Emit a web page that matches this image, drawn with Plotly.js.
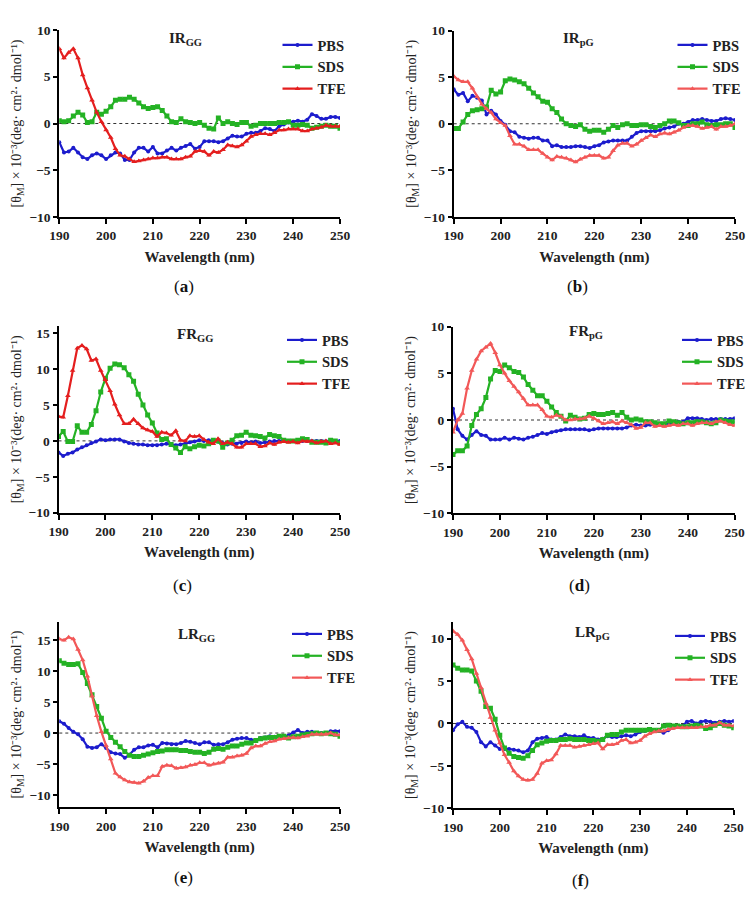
<!DOCTYPE html>
<html>
<head>
<meta charset="utf-8">
<script src="https://cdn.plot.ly/plotly-3.0.1.min.js"></script>
<style>html,body{margin:0;padding:0;background:#fff;}#chart{width:755px;height:902px;}</style>
</head>
<body>
<div id="chart"></div>
<script>
// Wavelength (nm)
const wavelength = [190,191,192,193,194,195,196,197,198,199,200,201,202,203,204,205,206,207,208,209,210,211,212,213,214,215,216,217,218,219,220,221,222,223,224,225,226,227,228,229,230,231,232,233,234,235,236,237,238,239,240,241,242,243,244,245,246,247,248,249,250];
const seriesNames = ['PBS','SDS','TFE'];
const panelTitles = ['IR<sub>GG</sub>','IR<sub>pG</sub>','FR<sub>GG</sub>','FR<sub>pG</sub>','LR<sub>GG</sub>','LR<sub>pG</sub>'];
const panelLabels = ['a','b','c','d','e','f'];
const yTitle = '[θ<sub>M</sub>] × 10⁻³(deg· cm²· dmol⁻¹)';
const xTitle = 'Wavelength (nm)';

// (a) IR_GG
const aPBS = [-2.0,-3.1,-3.0,-2.6,-3.1,-3.6,-3.8,-3.4,-3.2,-3.4,-3.8,-3.4,-3.1,-3.2,-3.9,-3.9,-3.1,-2.6,-2.6,-3.0,-2.5,-3.2,-3.2,-2.9,-2.6,-2.9,-2.6,-2.4,-2.2,-2.7,-2.5,-1.9,-1.9,-1.9,-2.0,-1.9,-1.6,-1.3,-1.4,-1.4,-1.1,-1.0,-1.0,-0.8,-0.5,-0.6,-0.8,-0.3,-0.1,0.1,0.2,0.3,0.2,0.4,1.0,0.8,0.5,0.5,0.7,0.7,0.6];
const aSDS = [0.3,0.2,0.3,0.8,1.2,0.9,0.1,0.2,1.2,1.0,1.3,1.8,2.5,2.6,2.6,2.8,2.6,2.2,1.8,1.6,1.7,1.8,1.4,0.8,0.2,0.1,0.5,0.2,0.1,0.0,0.1,-0.2,-0.5,-0.6,0.6,0.0,0.2,0.0,-0.1,0.1,0.1,-0.3,-0.2,0.0,0.0,0.0,0.0,0.1,0.1,0.2,-0.2,-0.2,-0.1,-0.2,-0.5,-0.4,-0.3,-0.2,-0.3,-0.3,-0.5];
const aTFE = [8.0,7.0,7.6,8.0,7.0,5.2,3.8,2.5,1.2,0.2,-0.7,-1.5,-2.7,-3.4,-3.5,-3.8,-4.1,-4.0,-3.9,-3.8,-3.7,-3.7,-3.6,-3.6,-3.8,-3.8,-3.8,-3.6,-3.5,-3.0,-2.9,-3.0,-3.4,-3.0,-3.1,-2.8,-2.3,-2.4,-2.5,-2.3,-1.9,-1.4,-1.2,-1.1,-1.1,-1.2,-1.0,-0.7,-0.7,-0.6,-0.6,-0.6,-0.8,-0.8,-0.6,-0.5,-0.4,-0.2,-0.3,-0.3,-0.3];

// (b) IR_pG
const bPBS = [3.7,3.1,3.3,2.4,3.0,2.8,2.5,1.0,1.4,1.0,0.3,-0.1,-0.8,-0.9,-1.4,-1.5,-1.6,-1.5,-1.5,-1.8,-1.8,-2.4,-2.3,-2.5,-2.5,-2.5,-2.4,-2.4,-2.5,-2.6,-2.4,-2.3,-2.0,-1.9,-1.8,-1.8,-1.8,-1.8,-1.4,-1.0,-0.8,-0.8,-0.8,-0.8,-0.7,-0.5,-0.4,-0.3,0.0,0.0,0.2,0.4,0.4,0.5,0.4,0.3,0.3,0.5,0.6,0.5,0.4];
const bSDS = [-0.5,-0.5,0.2,1.0,1.4,1.5,1.6,1.8,3.6,3.2,3.4,4.6,4.8,4.7,4.5,4.3,3.8,3.3,2.9,2.4,2.3,1.6,1.2,0.5,0.0,-0.2,-0.3,-0.1,-0.6,-0.8,-0.7,-0.7,-0.9,-0.6,-0.2,-0.4,-0.1,0.0,-0.2,-0.2,-0.1,-0.1,-0.3,-0.4,-0.2,0.0,0.3,0.3,0.1,-0.2,-0.2,0.0,0.0,0.2,-0.1,-0.2,-0.1,-0.1,0.0,0.0,-0.4];
const bTFE = [5.1,4.7,4.5,4.5,3.8,2.9,2.1,1.6,1.2,0.5,0.1,-0.2,-1.3,-2.2,-2.2,-2.4,-2.8,-2.8,-2.8,-3.2,-3.6,-3.9,-3.5,-3.6,-3.7,-3.9,-4.1,-3.8,-3.6,-3.4,-3.4,-3.4,-3.7,-3.6,-2.9,-2.3,-2.1,-2.1,-2.4,-2.2,-1.8,-1.5,-1.2,-1.4,-1.1,-1.0,-1.1,-0.9,-0.7,-0.4,-0.2,-0.2,-0.3,-0.5,-0.4,-0.3,-0.6,-0.3,-0.3,-0.2,0.0];

// (c) FR_GG
const cPBS = [-1.6,-2.1,-1.8,-1.6,-1.2,-0.9,-0.6,-0.3,-0.1,0.2,0.1,0.2,0.2,0.2,-0.1,-0.3,-0.4,-0.5,-0.5,-0.6,-0.6,-0.6,-0.5,-0.4,-0.5,-0.6,-0.5,-0.4,-0.2,-0.1,0.1,0.0,0.1,0.0,-0.1,-0.3,-0.5,-0.4,-0.4,-0.3,-0.1,-0.2,-0.1,-0.3,-0.2,-0.1,0.0,0.0,0.0,0.0,0.0,0.0,0.0,0.0,0.0,0.0,0.0,-0.1,0.0,0.0,0.0];
const cSDS = [0.6,1.3,-0.1,-0.1,2.1,1.2,1.2,2.3,4.2,6.8,8.7,10.1,10.7,10.6,10.2,9.2,8.3,6.5,5.0,3.6,2.5,1.1,0.2,0.3,-0.5,-1.0,-1.6,-0.8,-1.1,-0.8,-0.6,-0.7,-0.4,0.1,0.0,-0.9,-0.3,0.1,0.7,0.8,1.2,0.8,0.7,0.6,0.4,0.9,0.7,0.6,0.1,0.0,0.0,0.1,0.3,0.2,-0.2,-0.2,-0.2,-0.3,0.1,0.0,-0.3];
const cTFE = [3.4,3.3,6.3,9.8,12.9,13.3,12.8,11.2,11.4,9.8,8.5,7.0,5.1,3.6,2.4,2.4,3.0,2.4,1.8,1.5,1.3,0.6,1.2,1.1,0.8,1.4,0.1,0.0,0.7,0.6,0.7,0.2,-0.2,-0.4,0.3,-0.4,-0.2,-0.4,-0.9,-0.9,-0.4,-0.4,-0.4,-0.8,-0.7,-0.3,-0.5,-0.2,-0.1,-0.2,-0.1,-0.3,0.0,-0.1,0.0,-0.3,-0.1,0.0,-0.4,-0.3,-0.5];

// (d) FR_pG
const dPBS = [1.2,-1.0,-1.7,-2.1,-1.6,-1.2,-1.6,-1.7,-2.1,-2.1,-2.1,-1.9,-2.1,-1.9,-2.0,-2.1,-1.9,-1.8,-1.6,-1.4,-1.5,-1.3,-1.2,-1.1,-1.0,-1.0,-1.0,-1.0,-1.0,-1.1,-1.0,-0.9,-0.9,-0.9,-0.9,-0.9,-0.9,-0.8,-0.6,-0.5,-0.6,-0.6,-0.5,-0.5,-0.5,-0.4,-0.4,-0.3,-0.2,-0.2,0.2,0.2,0.2,0.1,0.0,0.1,0.1,0.1,0.1,0.1,0.2];
const dSDS = [-3.7,-3.3,-3.3,-2.8,-0.6,0.6,1.2,2.4,4.4,5.3,5.2,5.9,5.6,5.2,5.1,4.6,3.8,3.2,2.6,2.6,2.0,1.4,0.8,0.4,-0.1,0.5,0.3,0.1,0.2,0.6,0.7,0.6,0.6,0.7,0.8,0.5,0.8,0.3,0.0,0.1,0.0,-0.2,-0.2,-0.3,-0.4,-0.4,-0.1,-0.2,-0.3,-0.4,-0.3,-0.3,-0.2,-0.2,-0.3,-0.4,-0.3,0.0,-0.1,-0.2,-0.2];
const dTFE = [-1.3,0.0,0.7,3.4,5.3,6.5,7.4,7.8,8.2,7.2,5.9,5.0,4.2,3.6,3.0,2.3,1.6,1.6,1.6,1.1,0.4,0.3,0.5,0.4,0.0,0.0,0.1,0.1,0.2,0.4,0.2,-0.1,-0.4,-0.3,-0.2,-0.4,-0.1,-0.3,-0.5,-0.9,-0.8,-0.3,-0.3,-0.7,-0.6,-0.7,-0.6,-0.5,-0.6,-0.4,-0.4,-0.6,-0.4,-0.3,-0.3,-0.4,-0.2,-0.1,-0.3,-0.5,-0.6];

// (e) LR_GG
const ePBS = [1.9,1.5,0.8,0.2,-0.2,-1.0,-2.2,-2.4,-2.3,-1.8,-2.4,-3.1,-3.3,-3.4,-4.0,-3.5,-2.7,-2.3,-2.3,-2.0,-1.9,-2.3,-1.6,-1.7,-1.8,-1.8,-1.6,-1.3,-1.4,-1.6,-1.8,-1.5,-1.5,-1.9,-1.8,-1.8,-1.5,-1.1,-0.9,-0.8,-0.8,-1.1,-1.2,-0.8,-0.7,-0.5,-0.6,-0.5,-0.5,-0.4,0.1,0.5,0.0,0.2,0.2,0.0,0.0,0.0,0.3,0.3,0.3];
const eSDS = [11.7,11.3,11.1,11.1,11.2,9.8,8.0,6.2,4.3,2.4,0.3,-0.7,-1.5,-2.2,-3.0,-3.6,-3.8,-3.8,-3.6,-3.4,-3.2,-3.0,-2.9,-2.7,-2.7,-2.7,-2.8,-2.8,-3.0,-3.1,-3.1,-3.3,-3.1,-2.6,-2.5,-2.6,-2.3,-2.1,-2.1,-1.8,-1.6,-1.6,-1.2,-0.9,-0.8,-0.7,-0.7,-0.5,-0.5,-0.8,-0.6,-0.5,-0.3,-0.2,-0.1,0.0,-0.1,0.0,-0.1,-0.2,-0.5];
const eTFE = [15.2,15.0,15.5,15.2,13.5,11.8,9.2,6.0,2.8,0.2,-2.0,-4.2,-6.5,-7.1,-7.6,-7.9,-8.0,-8.1,-7.8,-7.2,-6.9,-6.9,-5.4,-5.2,-5.3,-5.7,-5.6,-5.5,-5.2,-5.1,-4.8,-4.8,-5.2,-5.0,-4.9,-4.7,-3.9,-3.9,-3.7,-3.6,-3.3,-2.4,-2.1,-2.1,-1.7,-1.4,-1.3,-1.0,-0.9,-0.8,-0.7,-0.8,-0.6,-0.5,-0.2,-0.2,-0.2,-0.2,0.0,-0.3,-0.3];

// (f) LR_pG
const fPBS = [-0.8,-0.1,0.2,-0.4,-0.5,-1.0,-2.2,-2.7,-2.2,-2.6,-3.0,-3.0,-3.0,-3.1,-3.2,-3.4,-3.2,-2.2,-1.8,-1.7,-1.6,-1.9,-1.9,-1.6,-1.3,-1.5,-1.5,-1.6,-1.4,-1.7,-1.7,-1.9,-1.8,-1.5,-1.6,-1.6,-1.5,-1.4,-1.5,-1.3,-1.0,-0.9,-0.8,-0.9,-0.9,-1.1,-0.8,-0.5,-0.4,-0.3,0.2,0.3,0.0,0.2,0.3,0.2,0.1,0.2,0.3,0.2,0.3];
const fSDS = [6.9,6.5,6.3,6.3,6.2,5.0,3.8,2.0,1.8,0.5,-1.4,-2.9,-3.5,-3.9,-4.0,-4.1,-3.8,-3.2,-2.5,-2.3,-2.1,-2.0,-2.0,-1.9,-1.9,-1.8,-1.9,-1.9,-1.9,-2.0,-2.0,-2.1,-1.9,-1.4,-1.3,-1.3,-1.0,-0.8,-0.8,-0.8,-0.8,-0.8,-0.7,-0.8,-0.8,-0.3,-0.2,-0.3,-0.3,-0.4,-0.4,-0.3,-0.2,-0.3,-0.6,-0.5,-0.2,0.0,-0.2,-0.3,-0.5];
const fTFE = [10.9,10.5,9.8,8.7,7.6,5.9,4.2,2.4,0.7,-0.8,-2.3,-3.7,-4.6,-5.6,-6.2,-6.6,-6.7,-6.6,-5.9,-4.7,-4.4,-4.3,-3.6,-2.6,-2.6,-2.6,-2.8,-2.7,-2.6,-2.5,-2.4,-2.3,-3.0,-2.5,-2.5,-2.4,-2.0,-1.9,-2.3,-2.2,-2.0,-1.5,-1.2,-1.0,-0.9,-0.9,-0.7,-0.6,-0.5,-0.5,-0.5,-0.5,-0.5,-0.4,-0.4,-0.2,-0.2,0.1,-0.2,-0.2,-0.3];

const panelData = [[aPBS,aSDS,aTFE],[bPBS,bSDS,bTFE],[cPBS,cSDS,cTFE],[dPBS,dSDS,dTFE],[ePBS,eSDS,eTFE],[fPBS,fSDS,fTFE]];
const yRanges = [[-10,10],[-10,10],[-10,16],[-10,10],[-12,18],[-10,12]];

const W = 755, H = 902;
// geometry in px: [left, right, top, bottom]
const boxes = [
  [59.3, 340, 30, 217],
  [453.7, 735, 30.5, 217],
  [58.5, 340, 326, 512.7],
  [453, 734.7, 326.7, 513.3],
  [59.3, 340, 621.7, 807.3],
  [453, 733.7, 621.7, 808.3]
];
const legendPos = [[277.5,29],[672.5,29],[282,324],[677,324],[287,618],[670,620]];
const titlePos = [[185,39],[578,39],[195,335],[586,332],[196,635],[592,633]];
const labelPos = [[184,287],[577,287],[182,585],[579,585],[183,877],[580,880]];

const blue = 'rgb(28,28,205)';
const green = 'rgb(36,178,36)';
const redStrong = 'rgb(228,30,30)';
const redSoft = 'rgb(242,88,88)';
const redColors = [redStrong, redSoft, redStrong, redSoft, redSoft, redSoft];
const symbols = ['circle','square','triangle-up'];
const msizes = [4,5,5];

const serif = 'Liberation Serif, Times New Roman, serif';
const traces = [];
const layout = {
  width: W, height: H,
  margin: {l:0, r:0, t:0, b:0},
  paper_bgcolor: '#fff', plot_bgcolor: '#fff',
  font: {family: serif, color: '#111'},
  shapes: [], annotations: []
};

for (let p = 0; p < 6; p++) {
  const sfx = p === 0 ? '' : String(p + 1);
  const xa = 'x' + sfx, ya = 'y' + sfx;
  const lg = 'legend' + sfx;
  const colors = [blue, green, redColors[p]];
  for (let s = 0; s < 3; s++) {
    traces.push({
      type: 'scatter', mode: 'lines+markers',
      x: wavelength, y: panelData[p][s],
      name: seriesNames[s],
      xaxis: xa, yaxis: ya, legend: lg,
      line: {color: colors[s], width: 2.2},
      marker: {color: colors[s], symbol: symbols[s], size: msizes[s]}
    });
  }
  const b = boxes[p];
  layout['xaxis' + sfx] = {
    domain: [b[0]/W, b[1]/W], anchor: ya,
    range: [190, 250], tickvals: [190,200,210,220,230,240,250],
    showline: true, linecolor: '#000', linewidth: 2,
    ticks: 'outside', ticklen: 5, tickwidth: 2, tickcolor: '#000',
    showgrid: false, zeroline: false,
    tickfont: {family: serif, size: 13.5, weight: 'bold', color: '#222'},
    title: {text: xTitle, font: {family: serif, size: 15, weight: 'bold', color: '#222'}, standoff: 9}
  };
  const yr = yRanges[p];
  const yt = [];
  for (let v = -10; v <= yr[1]; v += 5) yt.push(v);
  layout['yaxis' + sfx] = {
    domain: [1 - b[3]/H, 1 - b[2]/H], anchor: xa,
    range: yr, tickvals: yt,
    showline: true, linecolor: '#000', linewidth: 2,
    ticks: 'outside', ticklen: 4, tickwidth: 2, tickcolor: '#000',
    showgrid: false, zeroline: false,
    tickfont: {family: serif, size: 13.5, weight: 'bold', color: '#222'},
    title: {text: yTitle, font: {family: serif, size: 14, color: '#222'}, standoff: 4}
  };
  layout.shapes.push({type: 'line', xref: xa + ' domain', yref: ya, x0: 0, x1: 1, y0: 0, y1: 0,
    line: {color: '#333', width: 1, dash: 'dot'}, layer: 'below'});
  const lp = legendPos[p];
  layout[lg] = {
    x: lp[0]/W, y: 1 - lp[1]/H, xanchor: 'left', yanchor: 'top',
    bgcolor: 'rgba(0,0,0,0)', borderwidth: 0,
    font: {family: serif, size: 14.5, weight: 'bold', color: '#222'},
    tracegroupgap: 0
  };
  const tp = titlePos[p];
  layout.annotations.push({xref: 'paper', yref: 'paper', x: tp[0]/W, y: 1 - tp[1]/H,
    text: panelTitles[p], showarrow: false, xanchor: 'center', yanchor: 'middle',
    font: {family: serif, size: 15, weight: 'bold', color: '#222'}});
  const lb = labelPos[p];
  layout.annotations.push({xref: 'paper', yref: 'paper', x: lb[0]/W, y: 1 - lb[1]/H,
    text: '(<b>' + panelLabels[p] + '</b>)', showarrow: false, xanchor: 'center', yanchor: 'middle',
    font: {family: serif, size: 17, color: '#111'}});
}

Plotly.newPlot('chart', traces, layout, {displayModeBar: false, staticPlot: true});
</script>
</body>
</html>
